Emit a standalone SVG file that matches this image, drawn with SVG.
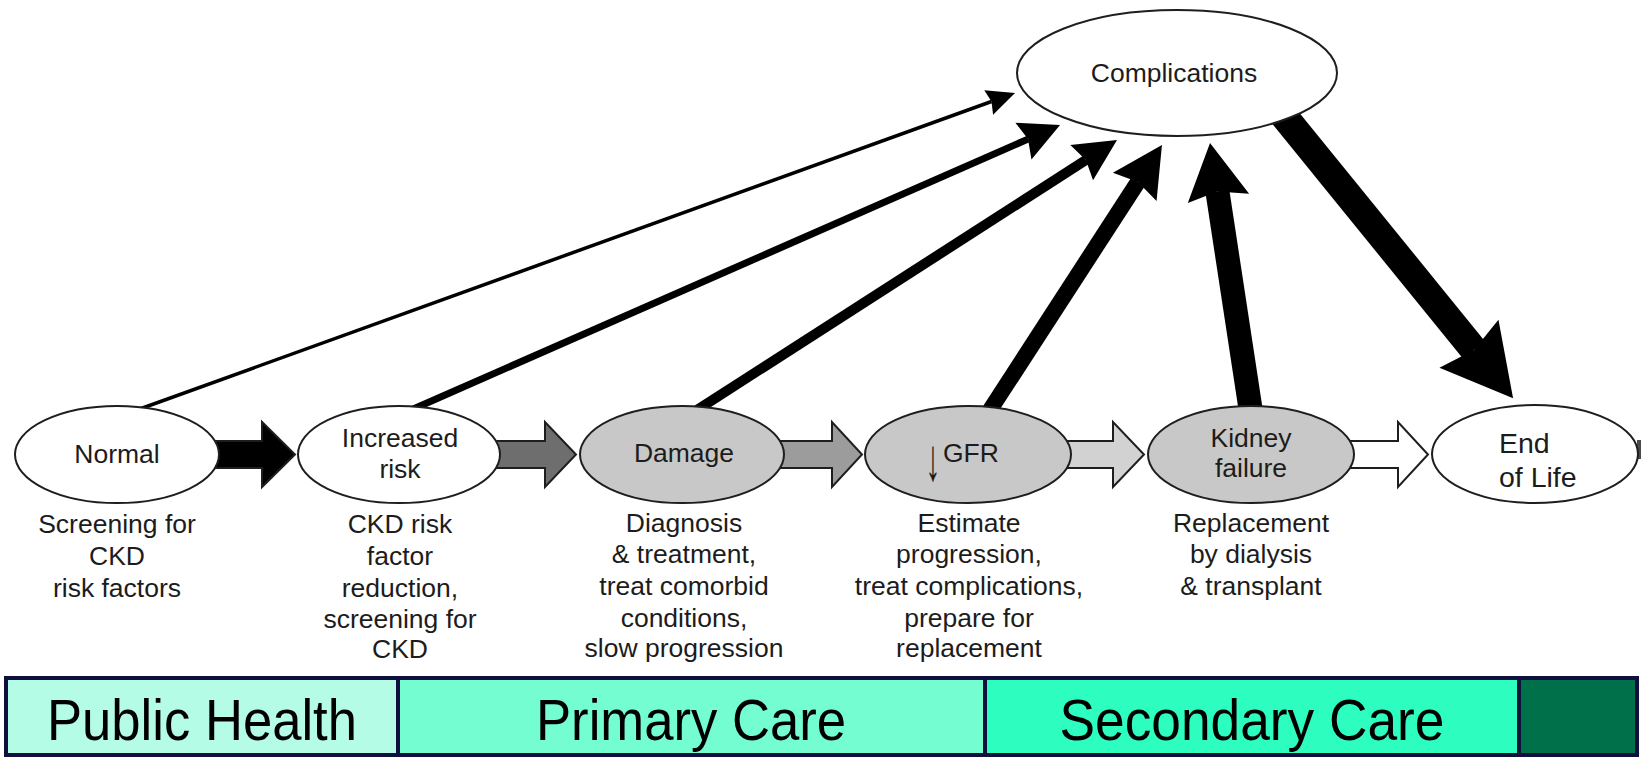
<svg xmlns="http://www.w3.org/2000/svg" width="1641" height="758" viewBox="0 0 1641 758">
<style>
.bg{fill:#ffffff}
.node ellipse{stroke:#1e1e1e;stroke-width:2}
.white{fill:#ffffff}
.grey{fill:#c8c8c8}
.lbl{font-family:"Liberation Sans",Arial,Helvetica,sans-serif;font-size:26.5px;fill:#1c1c1c;text-anchor:middle}
.lft{text-anchor:start}
.band rect{stroke:#10103f;stroke-width:4}
.band text{font-family:"Liberation Sans",Arial,Helvetica,sans-serif;font-size:57px;fill:#000;text-anchor:middle}
.block{stroke:#1e1e1e;stroke-width:2;stroke-linejoin:miter}
.link{stroke:#000;fill:none;stroke-linecap:butt}
.head{fill:#000}
</style>
<defs>
<marker id="hA" markerUnits="userSpaceOnUse" orient="auto" refX="3" refY="0" overflow="visible"><path class="head" d="M28,0 L0,-13 L3,0 L0,13 Z"/></marker>
<marker id="hB" markerUnits="userSpaceOnUse" orient="auto" refX="5" refY="0" overflow="visible"><path class="head" d="M40,0 L0,-20 L5,0 L0,20 Z"/></marker>
<marker id="hC" markerUnits="userSpaceOnUse" orient="auto" refX="5" refY="0" overflow="visible"><path class="head" d="M42,0 L0,-21 L5,0 L0,21 Z"/></marker>
<marker id="hD" markerUnits="userSpaceOnUse" orient="auto" refX="6" refY="0" overflow="visible"><path class="head" d="M50,0 L0,-26 L6,0 L0,26 Z"/></marker>
<marker id="hE" markerUnits="userSpaceOnUse" orient="auto" refX="7" refY="0" overflow="visible"><path class="head" d="M56,0 L0,-31 L7,0 L0,31 Z"/></marker>
<marker id="hF" markerUnits="userSpaceOnUse" orient="auto" refX="8" refY="0" overflow="visible"><path class="head" d="M70,0 L0,-38 L8,0 L0,38 Z"/></marker>
</defs>
<rect class="bg" x="0" y="0" width="1641" height="758"/>

<g id="connectors">
  <path class="block" fill="#000000" d="M200,441 H262 V422 L295,454.5 L262,487 V468 H200 Z"/>
  <path class="block" fill="#6e6e6e" d="M480,441 H545 V422 L576,454.5 L545,487 V468 H480 Z"/>
  <path class="block" fill="#9c9c9c" d="M760,441 H832 V422 L862,454.5 L832,487 V468 H760 Z"/>
  <path class="block" fill="#d2d2d2" d="M1050,441 H1113 V422 L1144,454.5 L1113,487 V468 H1050 Z"/>
  <path class="block" fill="#ffffff" d="M1330,441 H1398 V422 L1428,454.5 L1398,487 V468 H1330 Z"/>
  <rect x="1637" y="440" width="4" height="19" fill="#4a4a4a"/>
  <line class="link" x1="137" y1="410" x2="991.5" y2="101.5" stroke-width="3.5" marker-end="url(#hA)"/>
  <line class="link" x1="411" y1="410" x2="1028" y2="139.1" stroke-width="7" marker-end="url(#hB)"/>
  <line class="link" x1="697" y1="410" x2="1085.9" y2="160" stroke-width="10" marker-end="url(#hC)"/>
  <line class="link" x1="990" y1="410" x2="1138" y2="181.9" stroke-width="16" marker-end="url(#hD)"/>
  <line class="link" x1="1251" y1="412" x2="1217.4" y2="191.4" stroke-width="24" marker-end="url(#hE)"/>
  <line class="link" x1="1275" y1="105" x2="1474" y2="350" stroke-width="28" marker-end="url(#hF)"/>
</g>

<g id="node-complications" class="node">
  <ellipse class="white" cx="1177" cy="73" rx="160" ry="63"/>
  <text class="lbl" x="1174" y="82">Complications</text>
</g>
<g id="node-normal" class="node">
  <ellipse class="white" cx="117" cy="454.5" rx="102" ry="48.5"/>
  <text class="lbl" x="117" y="463">Normal</text>
  <text class="lbl" x="117" y="533">Screening for</text>
  <text class="lbl" x="117" y="565">CKD</text>
  <text class="lbl" x="117" y="597">risk factors</text>
</g>
<g id="node-increased-risk" class="node">
  <ellipse class="white" cx="399" cy="454.5" rx="101" ry="48.5"/>
  <text class="lbl" x="400" y="447">Increased</text>
  <text class="lbl" x="400" y="478">risk</text>
  <text class="lbl" x="400" y="533">CKD risk</text>
  <text class="lbl" x="400" y="565">factor</text>
  <text class="lbl" x="400" y="597">reduction,</text>
  <text class="lbl" x="400" y="628">screening for</text>
  <text class="lbl" x="400" y="658">CKD</text>
</g>
<g id="node-damage" class="node">
  <ellipse class="grey" cx="682" cy="454.5" rx="102" ry="48.5"/>
  <text class="lbl" x="684" y="462">Damage</text>
  <text class="lbl" x="684" y="532">Diagnosis</text>
  <text class="lbl" x="684" y="563">&amp; treatment,</text>
  <text class="lbl" x="684" y="595">treat comorbid</text>
  <text class="lbl" x="684" y="627">conditions,</text>
  <text class="lbl" x="684" y="657">slow progression</text>
</g>
<g id="node-gfr" class="node">
  <ellipse class="grey" cx="968" cy="454.5" rx="103" ry="48.5"/>
  <text class="lbl" x="0" y="0" transform="translate(933,480) scale(1,2)" style="font-size:30px">↓</text>
  <text class="lbl lft" x="943" y="462">GFR</text>
  <text class="lbl" x="969" y="532">Estimate</text>
  <text class="lbl" x="969" y="563">progression,</text>
  <text class="lbl" x="969" y="595">treat complications,</text>
  <text class="lbl" x="969" y="627">prepare for</text>
  <text class="lbl" x="969" y="657">replacement</text>
</g>
<g id="node-kidney-failure" class="node">
  <ellipse class="grey" cx="1251" cy="454.5" rx="103" ry="48.5"/>
  <text class="lbl" x="1251" y="447">Kidney</text>
  <text class="lbl" x="1251" y="477">failure</text>
  <text class="lbl" x="1251" y="532">Replacement</text>
  <text class="lbl" x="1251" y="563">by dialysis</text>
  <text class="lbl" x="1251" y="595">&amp; transplant</text>
</g>
<g id="node-end-of-life" class="node">
  <ellipse class="white" cx="1535" cy="454" rx="103" ry="49"/>
  <text class="lbl lft" x="1499" y="453" style="font-size:28.5px">End</text>
  <text class="lbl lft" x="1499" y="487" style="font-size:28.5px">of Life</text>
</g>

<g id="band" class="band">
  <g id="band-public-health">
    <rect x="6" y="678" width="392" height="77" fill="#b4fce5"/>
    <text x="202" y="740" textLength="310" lengthAdjust="spacingAndGlyphs">Public Health</text>
  </g>
  <g id="band-primary-care">
    <rect x="398" y="678" width="587" height="77" fill="#74fdd1"/>
    <text x="691" y="740" textLength="310" lengthAdjust="spacingAndGlyphs">Primary Care</text>
  </g>
  <g id="band-secondary-care">
    <rect x="985" y="678" width="534" height="77" fill="#2dfec0"/>
    <text x="1252" y="740" textLength="385" lengthAdjust="spacingAndGlyphs">Secondary Care</text>
  </g>
  <g id="band-end">
    <rect x="1519" y="678" width="118" height="77" fill="#00704b"/>
  </g>
</g>
</svg>
